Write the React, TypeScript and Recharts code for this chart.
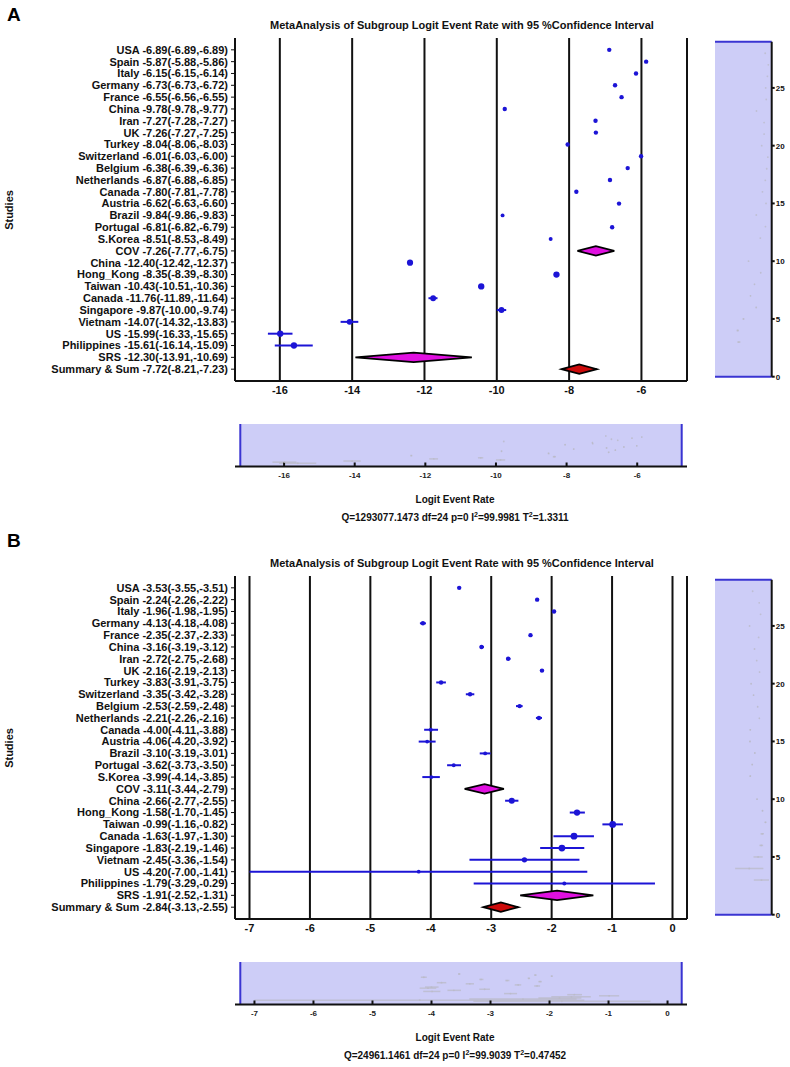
import React from 'react';
import {
  ComposedChart,
  Scatter,
  ErrorBar,
  XAxis,
  YAxis,
  CartesianGrid,
  ReferenceArea,
  ReferenceLine,
} from 'recharts';

// rows, top to bottom
const studyNames = [
  'USA', 'Spain', 'Italy', 'Germany', 'France', 'China', 'Iran', 'UK', 'Turkey',
  'Switzerland', 'Belgium', 'Netherlands', 'Canada', 'Austria', 'Brazil', 'Portugal',
  'S.Korea', 'COV', 'China', 'Hong_Kong', 'Taiwan', 'Canada', 'Singapore', 'Vietnam',
  'US', 'Philippines', 'SRS', 'Summary & Sum',
];
// study = single estimate, subgroup = magenta diamond, overall = red diamond
const rowKinds = [
  'study', 'study', 'study', 'study', 'study', 'study', 'study', 'study', 'study',
  'study', 'study', 'study', 'study', 'study', 'study', 'study',
  'study', 'subgroup', 'study', 'study', 'study', 'study', 'study', 'study',
  'study', 'study', 'subgroup', 'overall',
];

// panel A
const estA = [-6.89, -5.87, -6.15, -6.73, -6.55, -9.78, -7.27, -7.26, -8.04, -6.01, -6.38, -6.87, -7.80, -6.62, -9.84, -6.81, -8.51, -7.26, -12.40, -8.35, -10.43, -11.76, -9.87, -14.07, -15.99, -15.61, -12.30, -7.72];
const lowA = [-6.89, -5.88, -6.15, -6.73, -6.56, -9.78, -7.28, -7.27, -8.06, -6.03, -6.39, -6.88, -7.81, -6.63, -9.86, -6.82, -8.53, -7.77, -12.42, -8.39, -10.51, -11.89, -10.00, -14.32, -16.33, -16.14, -13.91, -8.21];
const highA = [-6.89, -5.86, -6.14, -6.72, -6.55, -9.77, -7.27, -7.25, -8.03, -6.00, -6.36, -6.85, -7.78, -6.60, -9.83, -6.79, -8.49, -6.75, -12.37, -8.30, -10.36, -11.64, -9.74, -13.83, -15.65, -15.09, -10.69, -7.23];
const weightA = [1, 1, 1, 1, 1, 1, 1, 1, 1, 1, 1, 1, 1, 1, 0.6, 1, 0.6, 0, 2.5, 2.6, 2.6, 2.2, 2.2, 2.2, 2.6, 2.6, 0, 0];
const xTicksA = [-16, -14, -12, -10, -8, -6];
const xDomainA: [number, number] = [-17.24, -4.74];
const statsA = { q: '1293077.1473', df: '24', p: '0', i2: '99.9981', t2: '1.3311' };

// panel B
const estB = [-3.53, -2.24, -1.96, -4.13, -2.35, -3.16, -2.72, -2.16, -3.83, -3.35, -2.53, -2.21, -4.00, -4.06, -3.10, -3.62, -3.99, -3.11, -2.66, -1.58, -0.99, -1.63, -1.83, -2.45, -4.20, -1.79, -1.91, -2.84];
const lowB = [-3.55, -2.26, -1.98, -4.18, -2.37, -3.19, -2.75, -2.19, -3.91, -3.42, -2.59, -2.26, -4.11, -4.20, -3.19, -3.73, -4.14, -3.44, -2.77, -1.70, -1.16, -1.97, -2.19, -3.36, -7.00, -3.29, -2.52, -3.13];
const highB = [-3.51, -2.22, -1.95, -4.08, -2.33, -3.12, -2.68, -2.13, -3.75, -3.28, -2.48, -2.16, -3.88, -3.92, -3.01, -3.50, -3.85, -2.79, -2.55, -1.45, -0.82, -1.30, -1.46, -1.54, -1.41, -0.29, -1.31, -2.55];
const weightB = [1, 1, 1, 1, 1, 1, 1, 1, 1, 1, 1, 1, 0.5, 0.5, 0.6, 0.6, 0.5, 0, 2.4, 2.6, 3, 3, 3, 1.8, 0.4, 0.7, 0, 0];
const xTicksB = [-7, -6, -5, -4, -3, -2, -1, 0];
const xDomainB: [number, number] = [-7.24, 0.24];
const statsB = { q: '24961.1461', df: '24', p: '0', i2: '99.9039', t2: '0.47452' };

const sideTicks = [0, 5, 10, 15, 20, 25];
const ROW_MAX = 29;

const BLUE = '#1c14d6';
const LAVENDER = '#cdcdf7';
const HANDLE = '#3a34d2';
const INK = '#111';
const FONT = '"Liberation Sans", Arial, Helvetica, sans-serif';
const DIAMOND_HALF = 0.4;

type Row = {
  est: number;
  row: number;
  low: number;
  high: number;
  w: number;
  kind: string;
  err: [number, number];
  label: string;
};

const fmt = (v: number) => v.toFixed(2);

function buildRows(est: number[], low: number[], high: number[], weight: number[]): Row[] {
  return studyNames.map((name, i) => ({
    est: est[i],
    row: studyNames.length - i,
    low: low[i],
    high: high[i],
    w: weight[i],
    kind: rowKinds[i],
    err: [est[i] - low[i], high[i] - est[i]],
    label: `${name} ${fmt(est[i])}(${fmt(low[i])},${fmt(high[i])})`,
  }));
}

const renderDot = (props: any) => {
  const { cx, cy, payload } = props;
  if (cx == null || cy == null) return <g />;
  return <circle cx={cx} cy={cy} r={1.6 + 0.6 * payload.w} fill={BLUE} />;
};

const renderTinyDot = (props: any) => {
  const { cx, cy } = props;
  if (cx == null || cy == null) return <g />;
  return <circle cx={cx} cy={cy} r={0.9} fill="#b9b9c4" fillOpacity={0.7} />;
};

const noShape = () => <g />;

const diamondLine = (fill: string) => (props: any) => {
  const pts = props.points || [];
  if (!pts.length) return <g />;
  const d = pts.map((p: any, i: number) => `${i ? 'L' : 'M'}${p.x},${p.y}`).join(' ') + ' Z';
  return <path d={d} fill={fill} stroke="#000" strokeWidth={1.7} strokeLinejoin="miter" />;
};

function diamondPoints(r: Row) {
  return [
    { est: r.low, row: r.row },
    { est: r.est, row: r.row + DIAMOND_HALF },
    { est: r.high, row: r.row },
    { est: r.est, row: r.row - DIAMOND_HALF },
  ];
}

type PanelProps = {
  top: number;
  letter: string;
  letterY: number;
  rows: Row[];
  domain: [number, number];
  ticks: number[];
  stats: { q: string; df: string; p: string; i2: string; t2: string };
};

function ForestPanel({ top, letter, letterY, rows, domain, ticks, stats }: PanelProps) {
  const studies = rows.filter((r) => r.kind === 'study');
  const diamonds = rows.filter((r) => r.kind !== 'study');
  const labelByRow: Record<number, string> = {};
  rows.forEach((r) => {
    labelByRow[r.row] = r.label;
  });
  const rowTicks = rows.map((r) => r.row).reverse();
  const span = domain[1] - domain[0];
  const brushDomain: [number, number] = [domain[0] - span * 0.012, domain[1] + span * 0.012];
  const sideDomain: [number, number] = [domain[0] - span * 0.5, domain[1]];

  return (
    <div style={{ position: 'absolute', left: 0, top, width: 790, height: 530 }}>
      {/* main forest plot */}
      <div style={{ position: 'absolute', left: 0, top: 0 }}>
        <ComposedChart width={700} height={411} margin={{ top: 38, right: 13, bottom: 0, left: 0 }}>
          <CartesianGrid horizontal={false} stroke={INK} strokeWidth={2} />
          <XAxis
            type="number"
            dataKey="est"
            domain={domain}
            ticks={ticks}
            interval={0}
            allowDataOverflow
            height={30}
            tickLine={false}
            tickSize={3}
            tickMargin={2}
            axisLine={{ stroke: INK, strokeWidth: 2 }}
            tick={{ fontSize: 11, fontWeight: 'bold', fill: INK, fontFamily: FONT }}
          />
          <YAxis
            type="number"
            dataKey="row"
            domain={[0, ROW_MAX]}
            ticks={rowTicks}
            interval={0}
            allowDataOverflow
            width={235}
            tickSize={4}
            tickMargin={3}
            tickFormatter={(v: number) => labelByRow[v] || ''}
            tickLine={{ stroke: INK }}
            axisLine={{ stroke: INK, strokeWidth: 2 }}
            tick={{ fontSize: 11, fontWeight: 'bold', fill: INK, fontFamily: FONT }}
          />
          <Scatter data={studies} shape={renderDot} isAnimationActive={false}>
            <ErrorBar dataKey="err" direction="x" width={0} stroke={BLUE} strokeWidth={2} isAnimationActive={false} />
          </Scatter>
          {diamonds.map((d) => (
            <Scatter
              key={d.label}
              data={diamondPoints(d)}
              shape={noShape}
              line={diamondLine(d.kind === 'overall' ? '#cc0a0a' : '#e010e0')}
              isAnimationActive={false}
            />
          ))}
        </ComposedChart>
      </div>

      {/* vertical overview on the right */}
      <div style={{ position: 'absolute', left: 715, top: 0 }}>
        <ComposedChart width={75} height={390} margin={{ top: 41.7, right: 0, bottom: 13.3, left: 0 }}>
          <XAxis type="number" dataKey="est" domain={sideDomain} hide allowDataOverflow />
          <YAxis
            orientation="right"
            type="number"
            dataKey="row"
            domain={[0, ROW_MAX]}
            ticks={sideTicks}
            interval={0}
            width={18.3}
            tickSize={3}
            tickMargin={1}
            axisLine={{ stroke: INK, strokeWidth: 2 }}
            tickLine={{ stroke: INK, strokeWidth: 2 }}
            tick={{ fontSize: 8, fontWeight: 'bold', fill: INK, fontFamily: FONT }}
          />
          <ReferenceArea y1={0} y2={ROW_MAX} fill={LAVENDER} fillOpacity={1} stroke="none" />
          <Scatter data={studies} shape={renderTinyDot} isAnimationActive={false}>
            <ErrorBar dataKey="err" direction="x" width={0} stroke="#b9b9c4" strokeOpacity={0.7} strokeWidth={1.5} isAnimationActive={false} />
          </Scatter>
          <ReferenceLine y={0} stroke={HANDLE} strokeWidth={2} />
          <ReferenceLine y={ROW_MAX} stroke={HANDLE} strokeWidth={2} />
        </ComposedChart>
      </div>

      {/* horizontal overview below */}
      <div style={{ position: 'absolute', left: 0, top: 410 }}>
        <ComposedChart width={700} height={80} margin={{ top: 14, right: 13, bottom: 0, left: 235 }}>
          <XAxis
            type="number"
            dataKey="est"
            domain={brushDomain}
            ticks={ticks}
            interval={0}
            allowDataOverflow
            height={23.5}
            tickSize={-4}
            tickMargin={9.5}
            tickLine={{ stroke: INK, strokeWidth: 2 }}
            axisLine={{ stroke: INK, strokeWidth: 2 }}
            tick={{ fontSize: 8, fontWeight: 'bold', fill: '#222', fontFamily: FONT }}
          />
          <YAxis type="number" dataKey="row" domain={[0, 39]} hide allowDataOverflow />
          <ReferenceArea x1={domain[0]} x2={domain[1]} fill={LAVENDER} fillOpacity={1} stroke="none" />
          <Scatter data={studies} shape={renderTinyDot} isAnimationActive={false}>
            <ErrorBar dataKey="err" direction="x" width={0} stroke="#b9b9c4" strokeOpacity={0.7} strokeWidth={1.5} isAnimationActive={false} />
          </Scatter>
          <ReferenceLine x={domain[0]} stroke={HANDLE} strokeWidth={2} />
          <ReferenceLine x={domain[1]} stroke={HANDLE} strokeWidth={2} />
        </ComposedChart>
      </div>

      {/* texts */}
      <svg
        width={790}
        height={530}
        style={{ position: 'absolute', left: 0, top: 0, pointerEvents: 'none', overflow: 'visible' }}
        fontFamily={FONT}
      >
        <text x={7} y={letterY} fontSize={19} fontWeight="bold" fill="#000">
          {letter}
        </text>
        <text x={462} y={29} fontSize={11} fontWeight="bold" textAnchor="middle" fill={INK}>
          MetaAnalysis of Subgroup Logit Event Rate with 95 %Confidence Interval
        </text>
        <text
          x={0}
          y={0}
          transform="translate(13, 210) rotate(-90)"
          fontSize={11}
          fontWeight="bold"
          textAnchor="middle"
          fill={INK}
        >
          Studies
        </text>
        <text x={455} y={502.5} fontSize={10} fontWeight="bold" textAnchor="middle" fill={INK}>
          Logit Event Rate
        </text>
        <text x={455} y={520.5} fontSize={10} fontWeight="bold" textAnchor="middle" fill={INK}>
          {`Q=${stats.q} df=${stats.df} p=${stats.p} I`}
          <tspan dy={-4} fontSize={7}>2</tspan>
          <tspan dy={4}>{`=${stats.i2} T`}</tspan>
          <tspan dy={-4} fontSize={7}>2</tspan>
          <tspan dy={4}>{`=${stats.t2}`}</tspan>
        </text>
      </svg>
    </div>
  );
}

export default function App() {
  const rowsA = buildRows(estA, lowA, highA, weightA);
  const rowsB = buildRows(estB, lowB, highB, weightB);
  return (
    <div
      style={{
        position: 'absolute',
        left: 0,
        top: 0,
        width: 790,
        height: 1067,
        background: '#fff',
        fontFamily: FONT,
        overflow: 'hidden',
      }}
    >
      <ForestPanel top={0} letter="A" letterY={20.5} rows={rowsA} domain={xDomainA} ticks={xTicksA} stats={statsA} />
      <ForestPanel top={538} letter="B" letterY={8.5} rows={rowsB} domain={xDomainB} ticks={xTicksB} stats={statsB} />
    </div>
  );
}
